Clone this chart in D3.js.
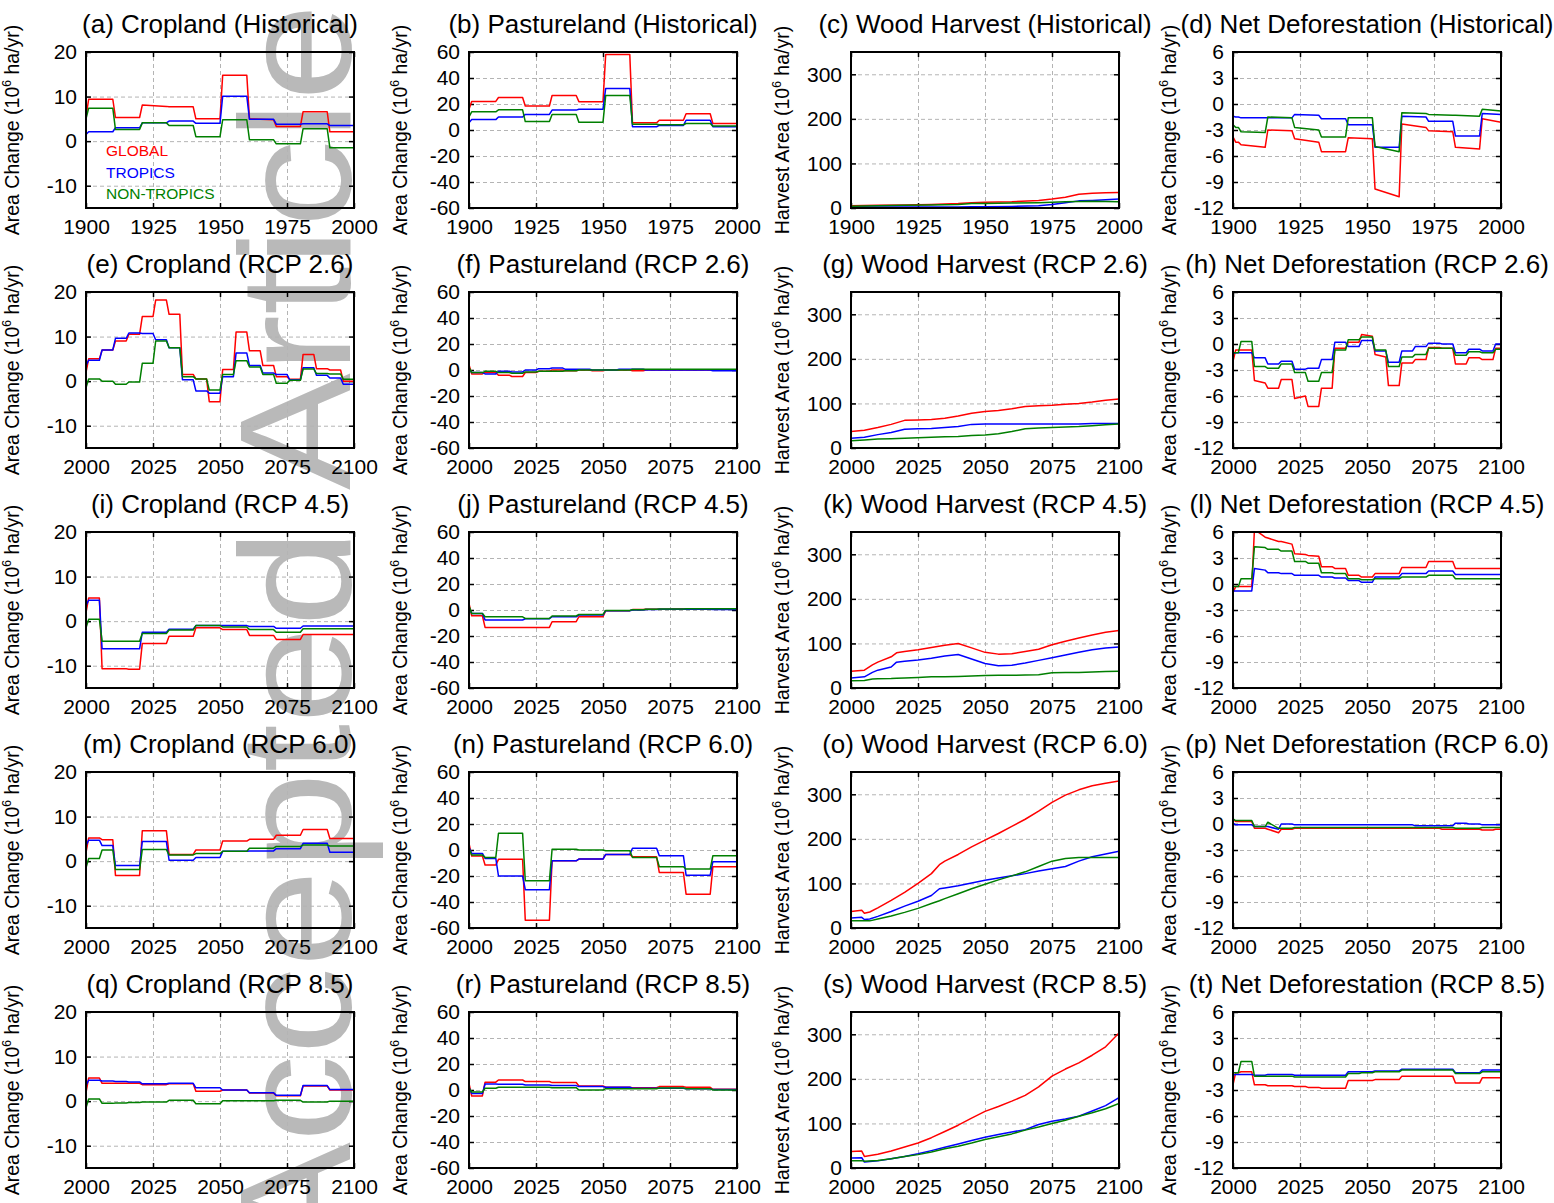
<!DOCTYPE html>
<html>
<head>
<meta charset="utf-8">
<script src="https://cdn.jsdelivr.net/npm/d3@7"></script>
<style>
  body { margin: 0; background: #fff; }
  svg { font-family: "Liberation Sans", Arial, sans-serif; }
</style>
</head>
<body>
<div id="chart"></div>
<script>
// ---- data ----

// step edges (years)
var histEdges = [1900, 1910, 1920, 1930, 1940, 1950, 1960, 1970, 1980, 1990, 2000];
var histDefEdges = [1900, 1902, 1912, 1922, 1932, 1942, 1952, 1962, 1972, 1982, 1992, 2000];
var rcpEdges = [2000, 2005, 2010, 2015, 2020, 2025, 2030, 2035, 2040, 2045, 2050, 2055, 2060, 2065, 2070, 2075, 2080, 2085, 2090, 2095, 2100];
var rcpDefEdges = [2000, 2002, 2007, 2012, 2017, 2022, 2027, 2032, 2037, 2042, 2047, 2052, 2057, 2062, 2067, 2072, 2077, 2082, 2087, 2092, 2097, 2100];

// (a) cropland historical: start value, then one value per step ([start, end] when it drifts)
var cropHistGlobal = [5.5, 9.4, 5.3, [8.1, 7.8], 7.7, 5.0, 14.8, [5.0, 4.8], 3.3, 6.6, 2.1];
var cropHistTropics = [1.5, 2.1, 3.0, 4.1, 4.5, 4.0, 10.1, 4.9, 3.8, 3.9, 3.5];
var cropHistNonTrop = [5.0, 7.4, 2.6, 4.1, 3.5, 1.0, 4.8, 0.3, -0.6, 2.8, -1.5];

// (b) pastureland historical
var pastHistGlobal = [16, 22, 25, 18.5, 26.5, 21.8, 58, 5.5, 7.5, 12.5, 5.0];
var pastHistTropics = [5.5, 8, 10, 12, 15.3, 16, 32, 2.5, 3.5, 7.5, 2.5];
var pastHistNonTrop = [10, 14, 15.5, 6.5, 12, 6, 26.5, 4.5, 4, 5, 3];

// (c) wood harvest historical
var woodHistYears = [1900, 1910, 1920, 1930, 1940, 1945, 1950, 1960, 1970, 1975, 1980, 1985, 1990, 1995, 2000];
var woodHistGlobal = [5, 6, 7, 8, 10, 12, 13, 14, 17, 20, 24, 31, 33, 34, 35];
var woodHistTropics = [2, 2.2, 2.5, 2.5, 2.5, 2.8, 3, 3.5, 5, 8, 12, 16, 17, 18.5, 20];
var woodHistNonTrop = [4, 5, 6, 7, 8, 10, 10, 11, 12, 13, 14, 14.5, 15, 14.5, 14];

// (d) net deforestation historical
var defHistGlobal = [-3.8, -4.4, [-4.7, -5.0], [-3.0, -3.1], [-4.0, -4.4], -5.5, [-3.9, -4.0], [-9.8, -10.7], [-2.3, -2.7], [-3.1, -3.2], [-5.0, -5.2], [-1.7, -2.1]];
var defHistTropics = [-1.4, -1.5, -1.6, -1.6, [-1.2, -1.3], -1.7, -2.4, -5.0, [-1.4, -1.5], -2.0, -3.7, [-1.1, -1.2]];
var defHistNonTrop = [-2.4, -2.7, [-3.2, -3.3], [-1.5, -1.6], [-2.7, -3.0], -3.8, -1.6, [-4.9, -5.5], [-1.0, -1.1], [-1.2, -1.3], [-1.3, -1.4], [-0.6, -0.8]];

// RCP 2.6
var cropR26Global = [2, 5, 7, 9, 10.5, 14.5, 18.2, 15, 1.5, 0.5, -4.6, 2.6, 11, 6.8, 3.5, 1.0, 0.4, 6, 2.8, 2.5, 0];
var cropR26Tropics = [3.5, 4.7, 7, 9.6, 10.8, 10.7, 9.3, 7.5, 0.3, -2.2, -2.7, 1.0, 6.3, 3.5, 1.8, 1.5, 0.3, 3.0, 1.3, 0.7, -0.7];
var cropR26NonTrop = [-1.5, 0.5, 0, -0.7, -0.2, 4, 9, 7.5, 1.0, 0.5, -2.0, 1.5, 4.6, 3.2, 1.5, -0.5, 0.2, 2.7, 1.7, 1.6, 0.4];

var pastR26Global = [4, -3, -2, -4, -5, -2, -1, 0, -0.5, 0, -0.5, 0, 0, -0.5, 0, 0, 0, 0, 0, 0, 0];
var pastR26Tropics = [1, -2, -3, -1, -1.5, 0, 1, 1.5, 0.5, 0.5, 0, 0, 0.5, 0.5, 0, 0, 0, 0, 0, -0.5, -0.5];
var pastR26NonTrop = [2, -2, -1, -2, -2.5, -1.5, -1, -1, -0.5, 0, 0, 0, 0, 0.5, 0.5, 0.5, 0.5, 0.5, 0.5, 0.5, 0.5];

var woodR26Years = [2000, 2005, 2010, 2015, 2020, 2025, 2030, 2035, 2040, 2045, 2050, 2055, 2060, 2065, 2070, 2075, 2080, 2085, 2090, 2095, 2100];
var woodR26Global = [37, 40, 46, 53, 62, 63, 64, 67, 72, 78, 82, 84, 88, 93, 95, 96, 98, 100, 103, 107, 110];
var woodR26Tropics = [22, 24, 30, 35, 42, 43, 44, 46, 48, 53, 54, 54, 54, 54, 54, 54, 54, 54, 55, 55, 55];
var woodR26NonTrop = [16, 18, 20, 21, 22, 23, 24, 25, 26, 28, 29, 32, 37, 43, 45, 46, 47, 48, 50, 52, 54];

var defR26Global = [-2.0, -0.7, -0.7, [-4.2, -4.5], -5.1, -4.1, [-6.3, -6.0], -7.2, -5.1, -0.5, 0.2, [1.1, 0.9], [-1.2, -1.5], -4.8, -2.2, -1.8, -0.4, -0.5, -2.3, -1.6, -1.8, -0.5];
var defR26Tropics = [-1.1, -1.0, -1.0, -1.6, -2.3, -2.0, -2.9, -2.8, -1.8, 0.2, -0.3, 0.4, -0.8, -2.1, -0.8, -0.3, 0.1, 0.0, -1.0, -0.6, -0.8, 0.0];
var defR26NonTrop = [-1.0, -1.0, 0.3, -2.6, -2.8, -2.3, -3.3, -4.3, -3.3, -0.7, 0.5, 0.8, -0.7, -2.6, -1.5, -1.2, -0.5, -0.5, -1.3, -0.9, -1.0, -0.6];

// RCP 4.5
var cropR45Global = [1.9, 5.2, -10.7, -10.7, -10.8, -5.0, -5.0, -3.4, -3.4, -1.5, -1.5, -1.9, -1.9, -3.2, -3.2, -4.1, -4.1, -3.0, -3.0, -3.0, -3.0];
var cropR45Tropics = [3.5, 4.7, -6.2, -6.2, -6.2, -2.5, -2.5, -1.8, -1.8, -1.0, -1.0, -1.0, -1.0, -1.2, -1.2, -1.6, -1.6, -1.1, -1.1, -1.1, -1.1];
var cropR45NonTrop = [-1.5, 0.4, -4.5, -4.5, -4.5, -2.8, -2.8, -2.0, -2.0, -1.0, -1.0, -1.3, -1.3, -1.9, -1.9, -2.5, -2.5, -1.7, -1.7, -1.7, -1.7];

var pastR45Global = [5, -4.4, -13.4, -13.4, -13.4, -13.4, -13.4, -9, -9, -5.2, -5.2, -0.5, -0.5, 0.3, 0.5, 0.5, 0.8, 0.8, 0.8, 0.8, 0.8];
var pastR45Tropics = [2, -2.6, -7.7, -7.7, -7.7, -6.7, -6.7, -5.2, -5.2, -3.9, -3.9, -0.5, -0.5, 0, 0.3, 0.5, 0.5, 0.5, 0.5, 0.3, 0.3];
var pastR45NonTrop = [3, -2.6, -5.2, -5.2, -5.2, -6.5, -6.5, -4.6, -4.6, -3.4, -3.4, -0.3, -0.3, 0.2, 0.5, 0.8, 0.8, 1, 1, 1, 1];

var woodR45Years = [2000, 2005, 2008, 2010, 2015, 2017, 2020, 2025, 2030, 2035, 2040, 2045, 2050, 2055, 2060, 2065, 2070, 2075, 2080, 2085, 2090, 2095, 2100];
var woodR45Global = [37.5, 40, 52, 58, 70, 79, 82, 86, 91, 96, 100, 90, 80, 76, 77, 82, 87, 97, 105, 112, 119, 125, 129];
var woodR45Tropics = [22.5, 25, 35, 40, 47, 58, 60, 63, 67, 72, 75, 65, 55, 50, 51, 56, 62, 68, 74, 80, 86, 90, 92];
var woodR45NonTrop = [16.5, 17, 20, 21, 21.5, 22, 22.5, 23.5, 25, 25.5, 26, 27, 28, 28.5, 28.5, 29, 29.5, 34, 34.5, 35, 36, 37, 37.5];

var defR45Global = [-1.0, -0.3, -0.3, [6.3, 5.4], [5.3, 4.9], [4.9, 4.6], [3.5, 3.4], [3.3, 3.2], 2.0, 1.8, 1.0, 0.8, 1.2, 1.2, 1.9, 1.9, 2.6, 2.6, 1.8, 1.8, 1.8, 1.8];
var defR45Tropics = [-0.8, -0.8, -0.8, [1.8, 1.6], 1.3, 1.2, 1.0, 1.0, 0.8, 0.7, 0.4, 0.2, 0.8, 0.8, 1.2, 1.2, 1.5, 1.5, 1.1, 1.1, 1.1, 1.1];
var defR45NonTrop = [-0.3, -0.3, 0.6, [4.3, 4.2], 4.0, 3.8, 2.6, 2.4, 1.3, 1.2, 0.6, 0.5, 0.6, 0.6, 0.8, 0.8, 1.0, 1.0, 0.6, 0.6, 0.6, 0.6];

// RCP 6.0
var cropR60Global = [1.9, 5.2, 4.8, -3.2, -3.2, 6.8, 6.8, 1.5, 1.5, 2.5, 2.5, 4.5, 4.5, 4.9, 4.9, 5.8, 5.8, 7.1, 7.1, 5.1, 5.1];
var cropR60Tropics = [3.5, 4.7, 3.5, -1.0, -1.0, 4.4, 4.4, 0.2, 0.2, 0.8, 0.8, 2.2, 2.2, 2.3, 2.3, 2.8, 2.8, 4.0, 4.0, 2.0, 2.0];
var cropR60NonTrop = [-1.5, 0.6, 2.5, -1.9, -1.9, 2.6, 2.6, 1.4, 1.4, 1.7, 1.7, 2.2, 2.2, 2.9, 2.9, 3.3, 3.3, 3.6, 3.6, 3.4, 3.4];

var pastR60Global = [5, -4.6, -11.6, -7.2, -7.2, -54, -54, -8.3, -8.3, -7, -7, -3.4, -3.4, -5.2, -5.2, -17.3, -17.3, -34, -34, -12.9, -12.9];
var pastR60Tropics = [2, -2.6, -6.5, -20, -20, -30.5, -30.5, -8.3, -8.3, -7, -7, -3.4, -3.4, 1.3, 1.3, -4.4, -4.4, -19.4, -19.4, -9, -9];
var pastR60NonTrop = [1.3, -3.9, -5.7, 12.9, 12.9, -23.7, -23.7, 0.5, 0.5, 0, 0, -0.5, -0.5, -5.7, -5.7, -12.9, -12.9, -14.7, -14.7, -4.4, -4.4];

var woodR60Years = [2000, 2004, 2005, 2007, 2010, 2015, 2020, 2025, 2030, 2033, 2035, 2040, 2045, 2050, 2055, 2060, 2065, 2070, 2075, 2080, 2085, 2090, 2095, 2100];
var woodR60Global = [37, 40, 33, 36, 45, 62, 80, 100, 122, 142, 150, 165, 182, 197, 212, 228, 244, 262, 282, 298, 310, 319, 325, 330];
var woodR60Tropics = [22.5, 24, 19, 20, 26, 37, 49, 60, 73, 88, 90, 95, 101, 107, 112, 117, 122, 128, 133, 138, 150, 160, 166, 172];
var woodR60NonTrop = [16.5, 16.5, 16, 16, 20, 27, 35, 44, 55, 61, 66, 77, 88, 98, 108, 117, 126, 138, 150, 156, 158, 158, 158, 158];

var defR60Global = [0.5, 0.3, 0.3, -0.5, [-0.6, -1.0], -0.6, -0.5, -0.5, -0.5, -0.5, -0.5, -0.5, -0.5, -0.5, -0.5, -0.5, -0.5, -0.6, -0.6, -0.6, -0.7, -0.6];
var defR60Tropics = [0.1, -0.1, -0.1, -0.3, [-0.3, -0.6], 0.0, -0.1, -0.1, -0.1, -0.1, -0.1, -0.1, -0.1, -0.1, -0.1, -0.2, -0.2, -0.2, 0.1, 0.0, -0.1, -0.1];
var defR60NonTrop = [0.6, 0.4, 0.4, -0.3, [0.2, -0.5], -0.5, -0.4, -0.4, -0.4, -0.4, -0.4, -0.4, -0.4, -0.4, -0.4, -0.4, -0.4, -0.4, -0.5, -0.5, -0.4, -0.4];

// RCP 8.5
var cropR85Global = [1.9, 5.2, 4.0, 4.0, 4.0, 3.7, 3.7, 3.9, 3.9, 2.2, 2.2, 2.5, 2.5, 1.8, 1.8, 1.2, 1.2, 3.4, 3.4, 2.5, 2.5];
var cropR85Tropics = [3.5, 4.7, 4.5, 4.4, 4.3, 3.9, 3.9, 4.0, 4.0, 3.0, 3.0, 2.5, 2.5, 1.9, 1.9, 1.3, 1.3, 3.5, 3.5, 2.6, 2.6];
var cropR85NonTrop = [-1.5, 0.5, -0.5, -0.4, -0.3, -0.2, -0.2, 0.2, 0.2, -0.6, -0.6, 0.1, 0.1, 0.1, 0.1, 0.2, 0.2, -0.2, -0.2, 0, 0];

var pastR85Global = [5, -4.6, 6, 7.7, 7.7, 6.5, 6.5, 5.7, 5.7, 3.1, 3.1, 2.1, 2.1, 1.8, 1.8, 2.6, 2.6, 2.1, 2.1, 0.5, 0.5];
var pastR85Tropics = [2, -2.6, 4.6, 4.4, 4.4, 3.9, 3.9, 3.4, 3.4, 2.6, 2.6, 2.1, 2.1, 1.3, 1.3, 1.3, 1.3, 1.0, 1.0, 0.3, 0.3];
var pastR85NonTrop = [1.3, -1.5, 1.3, 2.1, 2.1, 2.1, 2.1, 1.8, 1.8, 0, 0, 1, 1, 1, 1, 1.5, 1.5, 1, 1, 0, 0];

var woodR85Years = [2000, 2004, 2005, 2010, 2015, 2020, 2025, 2030, 2035, 2040, 2045, 2050, 2055, 2060, 2065, 2070, 2075, 2080, 2085, 2090, 2095, 2100];
var woodR85Global = [37, 38, 26, 31, 38, 47, 56, 68, 82, 96, 112, 127, 138, 150, 163, 182, 206, 222, 236, 253, 272, 303];
var woodR85Tropics = [22.5, 23, 13.5, 16, 21, 26, 32, 39, 46.5, 54, 61.5, 69, 75, 81, 86, 97.5, 105, 110, 116, 128, 140, 158];
var woodR85NonTrop = [16.5, 16.5, 15, 17, 21, 26, 30, 36, 43, 49, 56, 64, 70, 76.5, 85, 92, 100, 107, 116, 124, 133, 145];

var defR85Global = [-2.4, -1.0, -0.9, -2.4, -2.5, -2.5, -2.6, -2.7, -2.8, -2.8, -1.9, -1.9, -1.8, -1.8, -1.4, -1.4, -1.4, -1.4, -2.2, -2.2, -1.6, -1.6];
var defR85Tropics = [-1.3, -1.2, -1.2, -1.3, -1.2, -1.2, -1.3, -1.3, -1.3, -1.3, -0.9, -0.9, -0.8, -0.8, -0.6, -0.6, -0.6, -0.6, -1.0, -1.0, -0.7, -0.7];
var defR85NonTrop = [-1.0, -1.0, 0.3, -1.4, -1.4, -1.4, -1.5, -1.5, -1.5, -1.5, -1.1, -1.0, -0.9, -0.9, -0.7, -0.7, -0.7, -0.7, -1.1, -1.1, -0.9, -0.9];

var seriesNames = ["GLOBAL", "TROPICS", "NON-TROPICS"];
var seriesColors = ["#ff0000", "#0000ff", "#007f00"];
var histTicks = [1900, 1925, 1950, 1975, 2000];
var rcpTicks = [2000, 2025, 2050, 2075, 2100];

// ---- layout ----
var svgWidth = 1554;
var svgHeight = 1203;
var colLeft = [86, 469, 851, 1233];
var rowTop = [52, 292, 532, 772, 1012];
var plotW = 268;
var plotH = 156;
var ylabOffset = [-67, -62, -62, -57];

var kinds = {
    crop: { domain: [-15, 20], ticks: [-10, 0, 10, 20], label: "Area Change" },
    past: { domain: [-60, 60], ticks: [-60, -40, -20, 0, 20, 40, 60], label: "Area Change" },
    wood: { domain: [0, 350], ticks: [0, 100, 200, 300], label: "Harvest Area" },
    def: { domain: [-12, 6], ticks: [-12, -9, -6, -3, 0, 3, 6], label: "Area Change" }
};

function stepPanel(title, kind, edges, a, b, c) {
    return { title: title, kind: kind, edges: edges, series: [a, b, c] };
}
function smoothPanel(title, years, a, b, c) {
    return { title: title, kind: "wood", years: years, series: [a, b, c] };
}

var panels = [
    stepPanel("(a) Cropland (Historical)", "crop", histEdges, cropHistGlobal, cropHistTropics, cropHistNonTrop),
    stepPanel("(b) Pastureland (Historical)", "past", histEdges, pastHistGlobal, pastHistTropics, pastHistNonTrop),
    smoothPanel("(c) Wood Harvest (Historical)", woodHistYears, woodHistGlobal, woodHistTropics, woodHistNonTrop),
    stepPanel("(d) Net Deforestation (Historical)", "def", histDefEdges, defHistGlobal, defHistTropics, defHistNonTrop),

    stepPanel("(e) Cropland (RCP 2.6)", "crop", rcpEdges, cropR26Global, cropR26Tropics, cropR26NonTrop),
    stepPanel("(f) Pastureland (RCP 2.6)", "past", rcpEdges, pastR26Global, pastR26Tropics, pastR26NonTrop),
    smoothPanel("(g) Wood Harvest (RCP 2.6)", woodR26Years, woodR26Global, woodR26Tropics, woodR26NonTrop),
    stepPanel("(h) Net Deforestation (RCP 2.6)", "def", rcpDefEdges, defR26Global, defR26Tropics, defR26NonTrop),

    stepPanel("(i) Cropland (RCP 4.5)", "crop", rcpEdges, cropR45Global, cropR45Tropics, cropR45NonTrop),
    stepPanel("(j) Pastureland (RCP 4.5)", "past", rcpEdges, pastR45Global, pastR45Tropics, pastR45NonTrop),
    smoothPanel("(k) Wood Harvest (RCP 4.5)", woodR45Years, woodR45Global, woodR45Tropics, woodR45NonTrop),
    stepPanel("(l) Net Deforestation (RCP 4.5)", "def", rcpDefEdges, defR45Global, defR45Tropics, defR45NonTrop),

    stepPanel("(m) Cropland (RCP 6.0)", "crop", rcpEdges, cropR60Global, cropR60Tropics, cropR60NonTrop),
    stepPanel("(n) Pastureland (RCP 6.0)", "past", rcpEdges, pastR60Global, pastR60Tropics, pastR60NonTrop),
    smoothPanel("(o) Wood Harvest (RCP 6.0)", woodR60Years, woodR60Global, woodR60Tropics, woodR60NonTrop),
    stepPanel("(p) Net Deforestation (RCP 6.0)", "def", rcpDefEdges, defR60Global, defR60Tropics, defR60NonTrop),

    stepPanel("(q) Cropland (RCP 8.5)", "crop", rcpEdges, cropR85Global, cropR85Tropics, cropR85NonTrop),
    stepPanel("(r) Pastureland (RCP 8.5)", "past", rcpEdges, pastR85Global, pastR85Tropics, pastR85NonTrop),
    smoothPanel("(s) Wood Harvest (RCP 8.5)", woodR85Years, woodR85Global, woodR85Tropics, woodR85NonTrop),
    stepPanel("(t) Net Deforestation (RCP 8.5)", "def", rcpDefEdges, defR85Global, defR85Tropics, defR85NonTrop)
];

// step values -> vertices: each step ramps over one year after its edge
function stepPoints(edges, vals) {
    var pts = [[edges[0], vals[0]]];
    for (var k = 1; k < vals.length; k++) {
        var v = Array.isArray(vals[k]) ? vals[k] : [vals[k], vals[k]];
        pts.push([edges[k - 1] + 1, v[0]]);
        pts.push([edges[k], v[1]]);
    }
    return pts;
}

var svg = d3.select("#chart")
    .append("svg")
    .attr("width", svgWidth)
    .attr("height", svgHeight);

svg.append("rect").attr("width", svgWidth).attr("height", svgHeight).attr("fill", "#fff");

// watermark, behind everything
svg.append("text")
    .attr("transform", "translate(350,1259) rotate(-90) scale(1.108,1)")
    .attr("font-size", 158)
    .attr("fill", "#b9b9b9")
    .text("Accepted Article");

panels.forEach(function (p, i) {
    var r = Math.floor(i / 4), c = i % 4;
    var kind = kinds[p.kind];
    var hist = i < 4;
    var g = svg.append("g").attr("transform", `translate(${colLeft[c]},${rowTop[r]})`);

    var x = d3.scaleLinear().domain(hist ? [1900, 2000] : [2000, 2100]).range([0, plotW]);
    var y = d3.scaleLinear().domain(kind.domain).range([plotH, 0]);
    var xt = hist ? histTicks : rcpTicks;

    // grid
    g.append("g")
        .call(d3.axisLeft(y).tickValues(kind.ticks).tickSize(-plotW).tickFormat(""))
        .call(s => s.select(".domain").remove())
        .selectAll("line").attr("stroke", "#b4b4b4").attr("stroke-dasharray", "4,3");
    g.append("g")
        .attr("transform", `translate(0,${plotH})`)
        .call(d3.axisBottom(x).tickValues(xt).tickSize(-plotH).tickFormat(""))
        .call(s => s.select(".domain").remove())
        .selectAll("line").attr("stroke", "#b4b4b4").attr("stroke-dasharray", "4,3");

    // inner tick marks on all four sides
    var tl = 5;
    [[d3.axisLeft(y), 0, 0], [d3.axisRight(y), plotW, 0]].forEach(function (a) {
        g.append("g").attr("transform", `translate(${a[1]},${a[2]})`)
            .call(a[0].tickValues(kind.ticks).tickSizeInner(-tl).tickSizeOuter(0).tickFormat(""))
            .call(s => s.select(".domain").remove())
            .selectAll("line").attr("stroke", "#000").attr("stroke-width", 1.5);
    });
    [[d3.axisBottom(x), plotH], [d3.axisTop(x), 0]].forEach(function (a) {
        g.append("g").attr("transform", `translate(0,${a[1]})`)
            .call(a[0].tickValues(xt).tickSizeInner(-tl).tickSizeOuter(0).tickFormat(""))
            .call(s => s.select(".domain").remove())
            .selectAll("line").attr("stroke", "#000").attr("stroke-width", 1.5);
    });

    // tick labels
    g.append("g")
        .call(d3.axisLeft(y).tickValues(kind.ticks).tickSize(0).tickPadding(9).tickFormat(d => String(d)))
        .call(s => s.select(".domain").remove())
        .selectAll("text").attr("font-size", 21).attr("fill", "#000").attr("font-family", null);
    g.append("g")
        .attr("transform", `translate(0,${plotH})`)
        .call(d3.axisBottom(x).tickValues(xt).tickSize(0).tickPadding(11).tickFormat(d => String(d)))
        .call(s => s.select(".domain").remove())
        .selectAll("text").attr("font-size", 21).attr("fill", "#000").attr("font-family", null);

    // lines
    var clipId = "clip" + i;
    g.append("clipPath").attr("id", clipId)
        .append("rect").attr("width", plotW).attr("height", plotH);

    var line = d3.line().x(d => x(d[0])).y(d => y(d[1]));
    p.series.forEach(function (vals, k) {
        var pts = p.edges ? stepPoints(p.edges, vals) : p.years.map((yr, j) => [yr, vals[j]]);
        g.append("path")
            .datum(pts)
            .attr("clip-path", `url(#${clipId})`)
            .attr("fill", "none")
            .attr("stroke", seriesColors[k])
            .attr("stroke-width", 1.5)
            .attr("stroke-linejoin", "round")
            .attr("d", line);
    });

    // frame
    g.append("rect")
        .attr("width", plotW).attr("height", plotH)
        .attr("fill", "none").attr("stroke", "#000").attr("stroke-width", 2);

    // title
    g.append("text")
        .attr("x", plotW / 2).attr("y", -19)
        .attr("text-anchor", "middle")
        .attr("font-size", 26)
        .text(p.title);

    // y label
    var yl = g.append("text")
        .attr("transform", `translate(${ylabOffset[c]},${plotH / 2}) rotate(-90)`)
        .attr("text-anchor", "middle")
        .attr("font-size", 19.5);
    yl.append("tspan").text(kind.label + " (10");
    yl.append("tspan").attr("font-size", 12).attr("dy", -8).text("6");
    yl.append("tspan").attr("dy", 8).text(" ha/yr)");

    // legend only on the first panel
    if (i === 0) {
        seriesNames.forEach(function (name, k) {
            g.append("text")
                .attr("x", 20).attr("y", 104 + k * 21.5)
                .attr("font-size", 15.5)
                .attr("fill", seriesColors[k])
                .text(name);
        });
    }
});
</script>
</body>
</html>
